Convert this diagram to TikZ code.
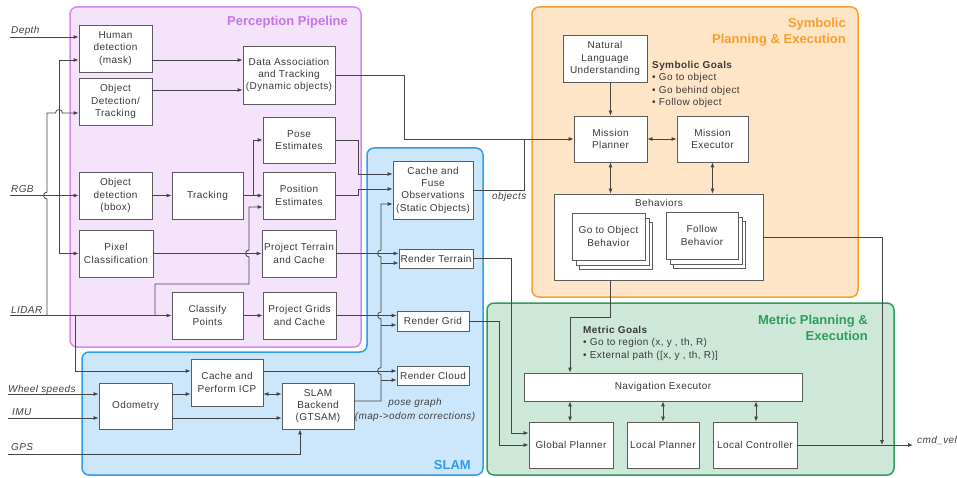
\documentclass[tikz,border=0pt]{standalone}
\usepackage{fontspec}
\setmainfont[LetterSpace=4]{Liberation Sans}
\newfontfamily\titlefont{Liberation Sans}
\usetikzlibrary{arrows.meta}
\definecolor{percfill}{HTML}{F5E3FB}
\definecolor{perc}{HTML}{D08AF2}
\definecolor{perct}{HTML}{C477E8}
\definecolor{slamfill}{HTML}{CCE6FB}
\definecolor{slamc}{HTML}{2E9BF0}
\definecolor{symfill}{HTML}{FEE5C8}
\definecolor{symc}{HTML}{F7A030}
\definecolor{metfill}{HTML}{CDE8D8}
\definecolor{metc}{HTML}{2E9E5B}
\definecolor{boxc}{HTML}{5C5C5C}
\definecolor{linec}{HTML}{454545}
\definecolor{txt}{HTML}{3A3A3A}
\definecolor{lblc}{HTML}{404040}
\begin{document}
\begin{tikzpicture}[x=1pt,y=-1pt,
  box/.style={draw=boxc, fill=white, line width=0.8pt, align=center, inner sep=1pt, text=txt, font=\fontsize{10}{12.3}\selectfont},
  arr/.style={draw=linec, line width=0.8pt, -{Latex[length=5pt,width=4pt]}},
  darr/.style={draw=linec, line width=0.8pt, {Latex[length=5pt,width=4pt]}-{Latex[length=5pt,width=4pt]}},
  ln/.style={draw=linec, line width=0.8pt},
  lbl/.style={font=\fontsize{10}{12}\selectfont\itshape, text=lblc, inner sep=0pt},
  title/.style={font=\titlefont\fontsize{13}{16}\selectfont\bfseries, inner sep=0pt, align=right},
  goals/.style={font=\fontsize{10}{12.5}\selectfont, text=txt, inner sep=0pt, align=left},
  cont/.style={line width=1.5pt, rounded corners=7pt}]
\useasboundingbox (0,0) rectangle (957,478);
% containers
\draw[cont, draw=slamc, fill=slamfill] (82,475) -- (82,352) -- (367,352) -- (367,148) -- (483,148) -- (483,475) -- cycle;
\draw[cont, draw=perc, fill=percfill] (70,7) rectangle (361,347);
\draw[cont, draw=symc, fill=symfill] (532,7) rectangle (858,297);
\draw[cont, draw=metc, fill=metfill] (487,303) rectangle (894,475);
% titles
\node[title, text=perct, anchor=east] (tperc) at (348,22) {Perception Pipeline};
\node[title, text=slamc, anchor=east] (tslam) at (471,465) {SLAM};
\node[title, text=symc, anchor=north east] (tsym) at (846,18) {Symbolic\\Planning \& Execution};
\node[title, text=metc, anchor=north east] (tmet) at (868,315) {Metric Planning \&\\Execution};
% perception nodes
\node[box, minimum width=73pt, minimum height=47pt] (hum) at (115.5,48.5) {Human\\detection\\(mask)};
\node[box, minimum width=73pt, minimum height=47pt] (odt) at (115.5,101.5) {Object\\Detection/\\Tracking};
\node[box, minimum width=92pt, minimum height=58pt] (da) at (289,75) {Data Association\\and Tracking\\(Dynamic objects)};
\node[box, minimum width=72pt, minimum height=46pt] (pose) at (299,140) {Pose\\Estimates};
\node[box, minimum width=73pt, minimum height=47pt] (odb) at (115.5,195.5) {Object\\detection\\(bbox)};
\node[box, minimum width=71pt, minimum height=47pt] (trk) at (207.5,195.5) {Tracking};
\node[box, minimum width=72pt, minimum height=47pt] (pos) at (299,195.5) {Position\\Estimates};
\node[box, minimum width=74pt, minimum height=47pt] (pix) at (116,253.5) {Pixel\\Classification};
\node[box, minimum width=74pt, minimum height=47pt] (ptc) at (299,253.5) {Project Terrain\\and Cache};
\node[box, minimum width=71pt, minimum height=47pt] (cls) at (207.5,315.5) {Classify\\Points};
\node[box, minimum width=73pt, minimum height=47pt] (pgc) at (299.5,315.5) {Project Grids\\and Cache};
% slam nodes
\node[box, minimum width=80pt, minimum height=58pt] (cfo) at (433,190) {Cache and\\Fuse\\Observations\\(Static Objects)};
\node[box, minimum width=74pt, minimum height=19pt] (rt) at (436,258.5) {Render Terrain};
\node[box, minimum width=72pt, minimum height=20pt] (rg) at (433,321) {Render Grid};
\node[box, minimum width=72pt, minimum height=19pt] (rc) at (433,375.5) {Render Cloud};
\node[box, minimum width=72pt, minimum height=47pt] (icp) at (227,382.5) {Cache and\\Perform ICP};
\node[box, minimum width=73pt, minimum height=46pt] (odo) at (135.5,406) {Odometry};
\node[box, minimum width=72pt, minimum height=46pt] (slb) at (318,406) {SLAM\\Backend\\(GTSAM)};
% symbolic nodes
\node[box, minimum width=84pt, minimum height=47pt] (nlu) at (605,58.5) {Natural\\Language\\Understanding};
\node[box, minimum width=73pt, minimum height=46pt] (mp) at (610.5,139) {Mission\\Planner};
\node[box, minimum width=71pt, minimum height=46pt] (me) at (712.5,139) {Mission\\Executor};
\node[box, minimum width=209pt, minimum height=86pt] (beh) at (658.5,237) {};
\node[font=\fontsize{10}{12}\selectfont, text=txt, inner sep=0pt] (behl) at (659,203) {Behaviors};
\node[box, minimum width=73pt, minimum height=47pt] (gob3) at (616,246) {};
\node[box, minimum width=73pt, minimum height=47pt] (gob2) at (612.5,241.5) {};
\node[box, minimum width=73pt, minimum height=47pt] (gob) at (608.5,236.5) {Go to Object\\Behavior};
\node[box, minimum width=72pt, minimum height=47pt] (fb3) at (709.5,245) {};
\node[box, minimum width=72pt, minimum height=47pt] (fb2) at (706,240.5) {};
\node[box, minimum width=72pt, minimum height=47pt] (fb) at (702,235.5) {Follow\\Behavior};
\node[goals, anchor=north west] (sg) at (652,61) {\textbf{Symbolic Goals}\\• Go to object\\• Go behind object\\• Follow object};
% metric nodes
\node[box, minimum width=278pt, minimum height=28pt] (nav) at (663,387) {Navigation Executor};
\node[box, minimum width=84pt, minimum height=46pt] (gp) at (571,445) {Global Planner};
\node[box, minimum width=72pt, minimum height=46pt] (lp) at (663,445) {Local Planner};
\node[box, minimum width=84pt, minimum height=46pt] (lc) at (755,445) {Local Controller};
\node[goals, anchor=north west] (mg) at (583,326) {\textbf{Metric Goals}\\• Go to region (x, y , th, R)\\• External path ([x, y , th, R)]};
% input labels
\node[lbl, anchor=base west] (ldepth) at (11,33.5) {Depth};
\node[lbl, anchor=base west] (lrgb) at (11,193) {RGB};
\node[lbl, anchor=base west] (llidar) at (11,313) {LIDAR};
\node[lbl, anchor=base west] (lwheel) at (8,392) {Wheel speeds};
\node[lbl, anchor=base west] (limu) at (12,415.5) {IMU};
\node[lbl, anchor=base west] (lgps) at (11,450) {GPS};
\node[lbl, anchor=base west] (lobj) at (492,200) {objects};
\node[lbl, anchor=base west] (lcmd) at (917,443) {cmd\_vel};
\node[lbl, align=center, font=\fontsize{10}{14}\selectfont\itshape] (lpg) at (415,410) {pose graph\\(map->odom corrections)};
% coordinates
\coordinate (depthin) at (10,37);
\coordinate (rgbin) at (10,195.5);
\coordinate (lidin) at (10,315.5);
\coordinate (wheelin) at (8,394);
\coordinate (imuin) at (8,418);
\coordinate (gpsin) at (8,454);
\coordinate (rgbj) at (59,195.5);
\coordinate (lidj1) at (47,315.5);
\coordinate (lidj2) at (75,315.5);
\coordinate (lidj3) at (155,315.5);
\coordinate (trkj) at (253,195.5);
\coordinate (cmdv) at (913,445);
% inputs
\draw[arr] (depthin) -- (hum.west |- depthin);
\draw[arr] (rgbin) -- (odb.west);
\draw[arr] (rgbj) |- (hum.west |- 0,60);
\draw[arr] (rgbj) |- (pix.west);
\draw[arr] (lidin) -- (cls.west);
\draw[arr] (lidj1) -- (47,199) .. controls (42.5,199) and (42.5,192) .. (47,192) -- (47,113) -- (55.5,113) .. controls (55.5,108.5) and (62.5,108.5) .. (62.5,113) -- (odt.west |- 0,113);
\draw[arr] (lidj2) |- (icp.west |- 0,371);
\draw[arr] (lidj3) -- (155,284) -- (249,284) -- (249,257) .. controls (244.5,257) and (244.5,250) .. (249,250) -- (249,207) -- (pos.west |- 0,207);
\draw[arr] (wheelin) -- (odo.west |- wheelin);
\draw[arr] (imuin) -- (odo.west |- imuin);
\draw[arr] (gpsin) -| (slb.south -| 300,0);
% perception internal
\draw[arr] (hum.east |- 0,60) -- (da.west |- 0,60);
\draw[arr] (odt.east |- 0,90) -- (da.west |- 0,90);
\draw[arr] (odb.east) -- (trk.west);
\draw[arr] (trk.east) -- (pos.west);
\draw[arr] (trkj) |- (pose.west);
\draw[arr] (pix.east) -- (ptc.west);
\draw[arr] (cls.east) -- (pgc.west);
% to slam
\draw[arr] (pose.east) -| (358,174) -- (cfo.west |- 0,174);
\draw[arr] (pos.east) -| (358,189) -- (cfo.west |- 0,189);
\draw[arr] (ptc.east) -- (rt.west |- ptc.east);
\draw[arr] (pgc.east) -- (rg.west |- pgc.east);
\draw[arr] (icp.east |- 0,371) -- (rc.west |- 0,371);
\draw[darr] (icp.east |- 0,394) -- (slb.west |- 0,394);
\draw[arr] (odo.east |- 0,394) -- (icp.west |- 0,394);
\draw[arr] (odo.east |- 0,418) -- (slb.west |- 0,418);
% pose graph
\draw[arr] (slb.east |- 0,401) -- (381,401) -- (381,374.5) .. controls (376.5,374.5) and (376.5,367.5) .. (381,367.5) -- (381,319) .. controls (376.5,319) and (376.5,312) .. (381,312) -- (381,257) .. controls (376.5,257) and (376.5,250) .. (381,250) -- (381,204) -- (cfo.west |- 0,204);
\draw[arr] (381,380) -- (rc.west |- 0,380);
\draw[arr] (381,325) -- (rg.west |- 0,325);
\draw[arr] (381,263) -- (rt.west |- 0,263);
% to symbolic
\draw[arr] (da.east) -| (404,139) -- (mp.west);
\draw[ln] (cfo.east) -| (524,139);
\draw[arr] (nlu.south -| mp.north) -- (mp.north);
\draw[darr] (mp.east) -- (me.west);
\draw[darr] (mp.south) -- (mp.south |- beh.north);
\draw[darr] (me.south) -- (me.south |- beh.north);
% to metric
\draw[arr] (beh.south -| 610,0) -- (610,317) -- (570,317) -- (nav.north -| 570,0);
\draw[arr] (beh.east) -| (882,445);
\draw[arr] (lc.east) -- (cmdv);
\draw[arr] (rt.east) -| (511,433) -- (gp.west |- 0,433);
\draw[arr] (rg.east) -| (499,445) -- (gp.west);
\draw[darr] (nav.south -| 570,0) -- (gp.north -| 570,0);
\draw[darr] (nav.south -| lp.north) -- (lp.north);
\draw[darr] (nav.south -| 756,0) -- (lc.north -| 756,0);
\end{tikzpicture}
\end{document}
